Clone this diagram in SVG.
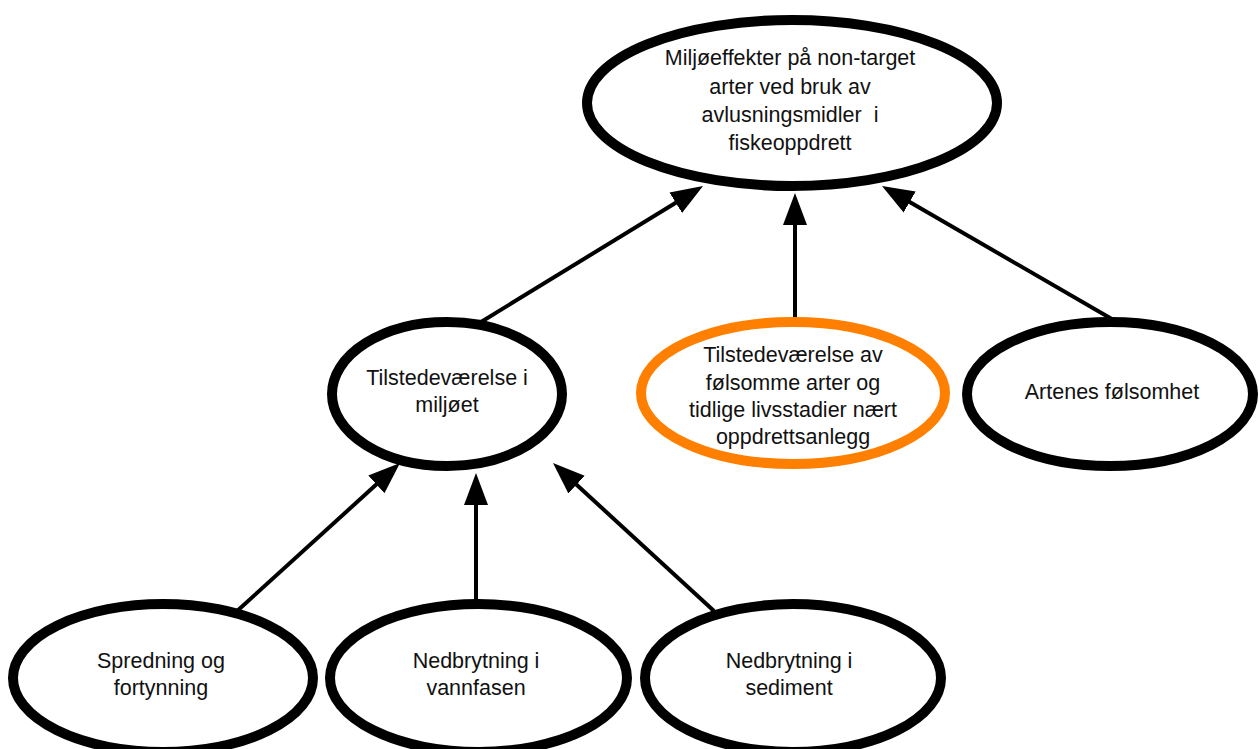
<svg xmlns="http://www.w3.org/2000/svg" width="1259" height="749" viewBox="0 0 1259 749">
<style>
.node{fill:#fff;stroke:#000;stroke-width:10}
.hl{stroke:#ff8000}
.lbl{font-family:"Liberation Sans",Arial,sans-serif;font-size:21.5px;fill:#111;text-anchor:middle}
.edge{stroke:#000;stroke-width:4;fill:none;marker-end:url(#arr)}
</style>
<defs>
<marker id="arr" markerUnits="userSpaceOnUse" markerWidth="34" markerHeight="26" viewBox="0 -13 34 26" refX="1" refY="0" orient="auto">
<path d="M0,-12 L32,0 L0,12 z" fill="#000"/>
</marker>
</defs>
<rect width="1259" height="749" fill="#fff"/>
<g id="connectors">
<line class="edge" x1="481" y1="322" x2="676.6" y2="202.2"/>
<line class="edge" x1="795" y1="320" x2="795" y2="224"/>
<line class="edge" x1="1117" y1="322" x2="908.8" y2="201.5"/>
<line class="edge" x1="236" y1="612" x2="377.1" y2="483.8"/>
<line class="edge" x1="476" y1="603" x2="476" y2="504"/>
<line class="edge" x1="714" y1="611" x2="575.8" y2="484"/>
</g>
<g id="top">
<ellipse class="node" cx="792" cy="103" rx="205" ry="83"/>
<text class="lbl" x="790" y="65">Miljøeffekter på non-target</text>
<text class="lbl" x="790" y="94">arter ved bruk av</text>
<text class="lbl" x="790" y="122" xml:space="preserve">avlusningsmidler  i</text>
<text class="lbl" x="790" y="150">fiskeoppdrett</text>
</g>
<g id="miljoet">
<ellipse class="node" cx="447" cy="394" rx="115" ry="72"/>
<text class="lbl" x="447" y="385">Tilstedeværelse i</text>
<text class="lbl" x="447" y="412">miljøet</text>
</g>
<g id="folsomme">
<ellipse class="node hl" cx="793" cy="393" rx="152" ry="71"/>
<text class="lbl" x="793" y="362">Tilstedeværelse av</text>
<text class="lbl" x="793" y="390">følsomme arter og</text>
<text class="lbl" x="793" y="417">tidlige livsstadier nært</text>
<text class="lbl" x="793" y="444">oppdrettsanlegg</text>
</g>
<g id="artenes">
<ellipse class="node" cx="1110" cy="394" rx="143" ry="72"/>
<text class="lbl" x="1112" y="399">Artenes følsomhet</text>
</g>
<g id="spredning">
<ellipse class="node" cx="163" cy="678" rx="150" ry="74"/>
<text class="lbl" x="161" y="668">Spredning og</text>
<text class="lbl" x="161" y="695">fortynning</text>
</g>
<g id="vannfasen">
<ellipse class="node" cx="478.5" cy="678" rx="148.5" ry="74"/>
<text class="lbl" x="476" y="668">Nedbrytning i</text>
<text class="lbl" x="476" y="695">vannfasen</text>
</g>
<g id="sediment">
<ellipse class="node" cx="793" cy="678" rx="148" ry="74"/>
<text class="lbl" x="789" y="668">Nedbrytning i</text>
<text class="lbl" x="789" y="695">sediment</text>
</g>
</svg>
